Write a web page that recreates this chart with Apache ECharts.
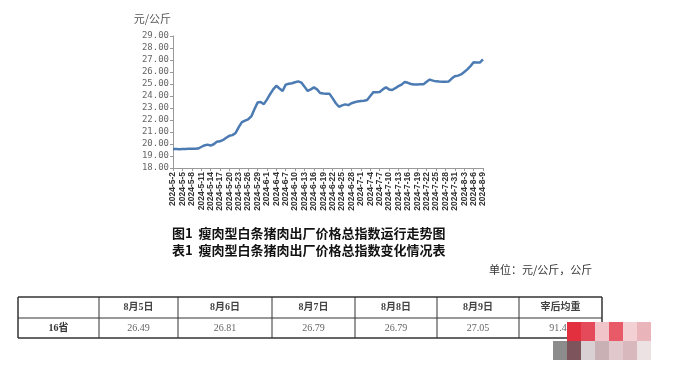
<!DOCTYPE html>
<html>
<head>
<meta charset="utf-8">
<script src="https://cdn.jsdelivr.net/npm/echarts@6/dist/echarts.min.js"></script>
<style>
html,body{margin:0;padding:0;background:#fff;}
#c{width:675px;height:366px;}
</style>
</head>
<body>
<div id="c"></div>
<script>
// ---- data ----
const startDate = [2024, 5, 2];
const priceIndex = [
  19.58,19.58,19.57,19.58,19.59,19.60,19.60,19.61,19.62,19.75,
  19.88,19.95,19.87,19.98,20.18,20.22,20.34,20.52,20.68,20.74,
  20.92,21.40,21.82,21.95,22.06,22.30,22.90,23.45,23.50,23.32,
  23.70,24.15,24.55,24.85,24.62,24.42,24.95,25.02,25.06,25.15,
  25.22,25.12,24.78,24.42,24.55,24.72,24.55,24.25,24.20,24.19,
  24.18,23.80,23.40,23.10,23.22,23.30,23.24,23.40,23.48,23.55,
  23.58,23.60,23.66,24.00,24.32,24.32,24.33,24.55,24.73,24.55,
  24.50,24.65,24.82,24.95,25.17,25.10,25.00,24.96,24.96,24.97,
  24.98,25.18,25.37,25.28,25.22,25.20,25.19,25.18,25.20,25.45,
  25.64,25.70,25.80,26.00,26.22,26.49,26.81,26.79,26.79,27.05
];
const yAxisName = '元/公斤';
const chartTitle = '图1  瘦肉型白条猪肉出厂价格总指数运行走势图';
const tableTitle = '表1  瘦肉型白条猪肉出厂价格总指数变化情况表';
const unitText = '单位：元/公斤，公斤';
const tableHeaders = ['', '8月5日', '8月6日', '8月7日', '8月8日', '8月9日', '宰后均重'];
const tableRowLabel = '16省';
const tableValues = ['26.49', '26.81', '26.79', '26.79', '27.05', '91.45'];

// build date category labels
const dates = [];
(function(){
  const d = new Date(startDate[0], startDate[1]-1, startDate[2]);
  for (let i = 0; i < priceIndex.length; i++) {
    dates.push(d.getFullYear() + '-' + (d.getMonth()+1) + '-' + d.getDate());
    d.setDate(d.getDate()+1);
  }
})();

// ---- table layout ----
const colX = [18, 99, 178, 272, 355, 437, 519, 602];
const rowY = [297, 318, 338];
const serif = '"Liberation Serif","Noto Sans CJK SC",serif';
const tableGraphics = [];
for (let c = 0; c < tableHeaders.length; c++) {
  const cx = (colX[c] + colX[c+1]) / 2;
  if (tableHeaders[c]) {
    tableGraphics.push({type:'text', x: cx, y: (rowY[0]+rowY[1])/2,
      style:{text: tableHeaders[c], font: 'bold 10px ' + serif, fill:'#444', textAlign:'center', textVerticalAlign:'middle'}});
  }
  const v = c === 0 ? tableRowLabel : tableValues[c-1];
  tableGraphics.push({type:'text', x: cx, y: (rowY[1]+rowY[2])/2,
    style:{text: v, font: (c===0?'bold ':'') + '10px ' + serif, fill: c===0?'#333':'#666', textAlign:'center', textVerticalAlign:'middle'}});
}
for (let i = 0; i < colX.length; i++) {
  tableGraphics.push({type:'line', shape:{x1:colX[i], y1:rowY[0], x2:colX[i], y2:rowY[2]},
    style:{stroke:'#333', lineWidth: (i===0||i===colX.length-1)?1.5:1}});
}
for (let j = 0; j < rowY.length; j++) {
  tableGraphics.push({type:'line', shape:{x1:colX[0], y1:rowY[j], x2:colX[colX.length-1], y2:rowY[j]},
    style:{stroke:'#333', lineWidth: (j===1)?1:1.5}});
}
// pixelated watermark blocks
const wm = [
  [567,322,'#e2303e'],[581,322,'#e54a5a'],[595,322,'#f0c4c9'],[609,322,'#e85a68'],[623,322,'#f3d0d4'],[637,322,'#eab4bb'],
  [553,341,'#8c8c8c'],[567,341,'#7d545c'],[581,341,'#d8d0d2'],[595,341,'#c8b0b4'],[609,341,'#e0c8cc'],[623,341,'#d8b8bd'],[637,341,'#ece2e4']
];
wm.forEach(b => tableGraphics.push({type:'rect', shape:{x:b[0], y:b[1], width:14, height:19}, style:{fill:b[2]}}));

const chart = echarts.init(document.getElementById('c'), null, {renderer:'canvas'});
chart.setOption({
  animation: false,
  backgroundColor: '#fff',
  grid: {left: 173, right: 192, top: 36, bottom: 198, containLabel: false},
  xAxis: {
    type: 'category',
    data: dates,
    boundaryGap: false,
    axisLine: {lineStyle: {color: '#999'}},
    axisTick: {interval: 2, length: 3, lineStyle:{color:'#999'}},
    axisLabel: {interval: 2, rotate: 90, fontSize: 8.5, fontWeight: 'bold', color: '#333',
      fontFamily: '"Liberation Sans",sans-serif', margin: 4}
  },
  yAxis: {
    type: 'value',
    min: 18, max: 29, interval: 1,
    name: yAxisName,
    nameGap: 12,
    nameTextStyle: {color: '#555', fontSize: 11, fontFamily: '"Noto Sans CJK SC",sans-serif', align: 'right', padding: [0, 2, 0, 0]},
    axisLine: {show: true, lineStyle: {color: '#999'}},
    axisTick: {show: true, length: 3, lineStyle: {color: '#999'}},
    splitLine: {show: false},
    axisLabel: {formatter: v => v.toFixed(2), fontSize: 9, color: '#666',
      fontFamily: '"DejaVu Sans Mono",monospace', margin: 4}
  },
  series: [{
    type: 'line',
    data: priceIndex,
    showSymbol: false,
    lineStyle: {color: '#4c7bb3', width: 2.5},
    itemStyle: {color: '#4c7bb3'}
  }],
  graphic: [
    {type:'text', left: 172, top: 227, style:{text: chartTitle, font:'bold 13px "Noto Sans CJK SC",sans-serif', fill:'#111'}},
    {type:'text', left: 172, top: 244, style:{text: tableTitle, font:'bold 13px "Noto Sans CJK SC",sans-serif', fill:'#111'}},
    {type:'text', left: 489, top: 264, style:{text: unitText, font:'11px "Noto Sans CJK SC",sans-serif', fill:'#333'}}
  ].concat(tableGraphics)
});
</script>
</body>
</html>
